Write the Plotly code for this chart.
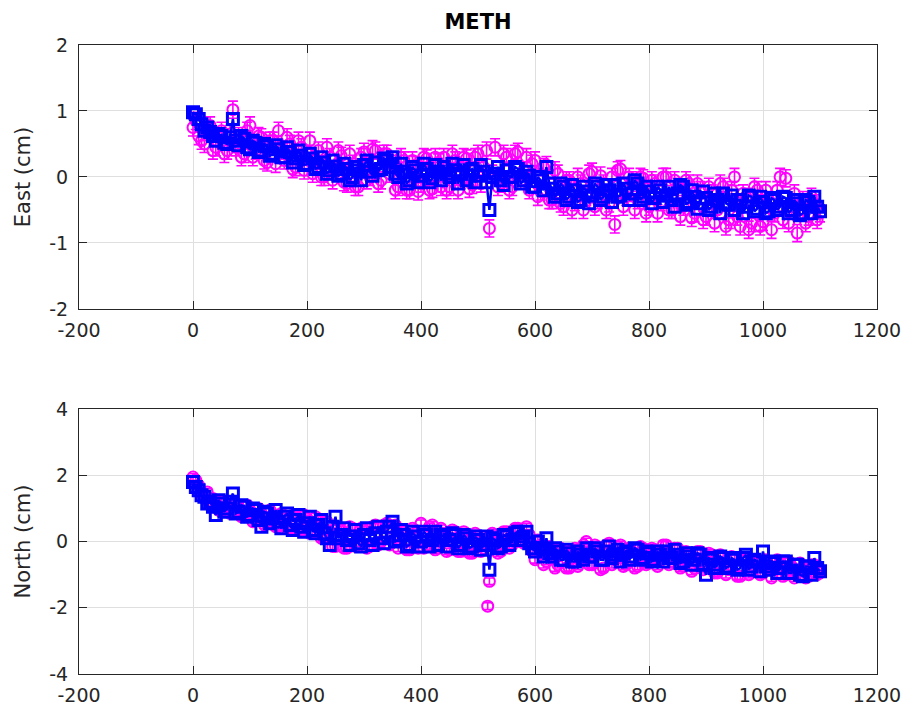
import plotly.graph_objects as go
from plotly.subplots import make_subplots

# ---------------- data (cm), one epoch every 5 days ----------------
days = list(range(0, 1101, 5))

east_blue = [
    0.98, 0.95, 0.88, 0.80, 0.70, 0.75, 0.68, 0.62, 0.55, 0.65, 0.62, 0.52, 0.50, 0.60, 0.88, 0.55, 0.48, 0.62, 0.58, 0.45,
    0.42, 0.55, 0.52, 0.38, 0.40, 0.50, 0.46, 0.32, 0.35, 0.48, 0.42, 0.30, 0.30, 0.45, 0.38, 0.22, 0.28, 0.40, 0.32, 0.18,
    0.20, 0.35, 0.28, 0.12, 0.15, 0.30, 0.22, 0.05, 0.10, 0.25, 0.16, 0.02, 0.05, 0.20, 0.12, -0.05, 0.00, 0.15, 0.10, -0.05,
    0.18, 0.25, 0.08, 0.02, 0.22, 0.10, 0.12, 0.28, 0.25, 0.15, 0.30, 0.05, 0.00, 0.20, 0.08, -0.10, -0.05, 0.15, 0.10, -0.08,
    0.02, 0.20, 0.12, -0.08, -0.02, 0.18, 0.08, -0.05, 0.15, 0.05, 0.00, 0.20, 0.10, -0.10, 0.05, 0.18, -0.05, 0.10, 0.12, -0.08,
    0.02, 0.18, 0.08, -0.08, -0.50, 0.00, 0.05, 0.15, -0.05, -0.12, 0.10, 0.00, 0.00, 0.15, 0.12, -0.10, -0.05, 0.08, 0.02, -0.15,
    -0.15, 0.00, -0.05, -0.20, 0.15, -0.10, -0.18, -0.30, -0.25, -0.10, -0.15, -0.35, -0.30, -0.12, -0.20, -0.38, -0.35, -0.15, -0.22, -0.40,
    -0.28, -0.10, -0.15, -0.35, -0.30, -0.12, -0.20, -0.38, -0.12, -0.30, -0.28, -0.10, -0.18, -0.35, -0.25, -0.05, -0.10, -0.35, -0.30, -0.15,
    -0.22, -0.40, -0.32, -0.15, -0.20, -0.38, -0.28, -0.15, -0.35, -0.45, -0.25, -0.12, -0.15, -0.42, -0.38, -0.20, -0.30, -0.48, -0.40, -0.22,
    -0.32, -0.50, -0.45, -0.25, -0.35, -0.55, -0.25, -0.40, -0.42, -0.28, -0.50, -0.35, -0.35, -0.55, -0.45, -0.28, -0.30, -0.52, -0.48, -0.30,
    -0.38, -0.55, -0.52, -0.32, -0.35, -0.50, -0.45, -0.30, -0.32, -0.55, -0.50, -0.35, -0.40, -0.58, -0.55, -0.35, -0.38, -0.55, -0.30, -0.45,
    -0.52]

east_mag = [
    0.75, 0.85, 0.62, 0.55, 0.50, 0.68, 0.78, 0.40, 0.45, 0.60, 0.70, 0.35, 0.40, 0.65, 1.02, 0.45, 0.62, 0.30, 0.35, 0.70,
    0.78, 0.30, 0.40, 0.62, 0.60, 0.25, 0.22, 0.55, 0.55, 0.20, 0.70, 0.40, 0.25, 0.60, 0.50, 0.12, 0.15, 0.55, 0.45, 0.10,
    0.35, 0.55, 0.05, 0.25, 0.40, 0.00, 0.00, 0.45, 0.30, -0.05, 0.08, 0.40, 0.32, -0.08, -0.10, 0.35, 0.20, -0.15, -0.15, 0.30,
    0.38, -0.05, 0.00, 0.42, 0.40, -0.10, -0.05, 0.35, 0.35, 0.05, 0.20, -0.20, -0.15, 0.30, 0.25, -0.20, -0.20, 0.25, 0.18, -0.22,
    -0.10, 0.30, 0.28, -0.20, -0.18, 0.30, 0.22, -0.15, 0.30, -0.20, -0.15, 0.35, 0.25, -0.20, -0.05, 0.30, 0.28, -0.18, -0.12, 0.30,
    0.35, -0.10, 0.15, 0.40, -0.78, 0.05, 0.45, -0.15, -0.10, 0.35, 0.30, -0.20, -0.15, 0.35, 0.38, -0.05, 0.10, 0.30, -0.20, 0.20,
    0.25, -0.30, -0.22, 0.15, 0.18, -0.35, -0.35, 0.10, 0.05, -0.40, -0.45, -0.05, -0.05, -0.50, -0.38, 0.00, -0.10, -0.50, -0.30, 0.05,
    0.08, -0.45, -0.35, 0.02, -0.10, -0.50, -0.40, 0.00, -0.72, 0.10, 0.12, -0.45, -0.30, 0.00, -0.05, -0.50, -0.35, 0.00, -0.02, -0.55,
    -0.45, -0.05, -0.10, -0.55, -0.38, 0.00, 0.00, -0.50, -0.50, -0.05, -0.15, -0.60, -0.45, -0.05, -0.10, -0.62, -0.55, -0.10, -0.20, -0.65,
    -0.60, -0.15, -0.25, -0.70, -0.50, -0.10, -0.15, -0.75, -0.65, -0.20, 0.00, -0.60, -0.75, -0.25, -0.30, -0.80, -0.70, -0.15, -0.20, -0.75,
    -0.68, -0.20, -0.35, -0.80, -0.55, -0.20, 0.00, -0.65, -0.02, -0.70, -0.45, -0.25, -0.85, -0.50, -0.35, -0.70, -0.60, -0.30, -0.40, -0.65,
    -0.55]

north_blue = [
    1.80, 1.65, 1.55, 1.40, 1.35, 1.15, 1.20, 1.05, 0.80, 1.25, 1.15, 0.90, 1.00, 1.20, 1.45, 0.85, 0.90, 1.10, 1.05, 0.75,
    0.80, 1.00, 0.95, 0.65, 0.45, 0.90, 0.85, 0.55, 0.70, 0.95, 0.60, 0.40, 0.75, 0.85, 0.50, 0.35, 0.65, 0.80, 0.45, 0.30,
    0.55, 0.75, 0.35, 0.25, 0.50, 0.65, 0.25, 0.10, -0.10, 0.45, 0.75, 0.10, 0.20, 0.40, 0.05, -0.10, 0.15, 0.35, -0.05, -0.15,
    0.20, 0.40, 0.05, -0.10, 0.25, 0.45, 0.10, -0.05, 0.30, 0.45, 0.60, 0.00, 0.05, 0.35, 0.20, -0.15, -0.10, 0.30, 0.15, -0.15,
    0.00, 0.30, 0.20, -0.15, 0.05, 0.30, -0.10, 0.20, 0.15, -0.15, 0.05, 0.25, 0.20, -0.20, -0.10, 0.20, 0.10, -0.20, -0.15, 0.15,
    0.05, -0.25, -0.10, 0.15, -0.85, 0.10, 0.05, -0.20, -0.15, 0.20, 0.15, -0.10, 0.05, 0.25, 0.30, 0.05, 0.15, 0.30, -0.05, -0.20,
    -0.30, 0.00, -0.20, -0.45, 0.10, -0.35, -0.45, -0.20, -0.30, -0.55, -0.55, -0.25, -0.35, -0.60, -0.60, -0.30, -0.40, -0.55, -0.20, -0.45,
    -0.45, -0.20, -0.30, -0.55, -0.55, -0.30, -0.15, -0.50, -0.40, -0.25, -0.60, -0.35, -0.30, -0.55, -0.45, -0.20, -0.25, -0.55, -0.50, -0.30,
    -0.35, -0.60, -0.55, -0.30, -0.40, -0.60, -0.30, -0.50, -0.50, -0.25, -0.40, -0.65, -0.60, -0.35, -0.45, -0.70, -0.55, -0.35, -0.40, -0.70,
    -1.00, -0.50, -0.55, -0.80, -0.70, -0.45, -0.50, -0.80, -0.75, -0.50, -0.55, -0.85, -0.80, -0.50, -0.40, -0.85, -0.75, -0.55, -0.60, -0.90,
    -0.30, -0.75, -0.85, -0.60, -0.65, -0.95, -0.80, -0.60, -0.60, -0.95, -0.95, -0.70, -0.70, -1.00, -1.05, -0.75, -0.75, -1.00, -0.50, -0.80,
    -0.90]

north_mag = [
    1.95, 1.85, 1.70, 1.45, 1.30, 1.50, 1.10, 1.30, 1.25, 0.95, 0.90, 1.20, 1.10, 0.85, 0.85, 1.15, 1.05, 0.75, 0.75, 1.10,
    0.95, 0.60, 0.65, 1.00, 0.85, 0.50, 0.55, 0.95, 0.80, 0.45, 0.45, 0.85, 0.75, 0.40, 0.40, 0.80, 0.80, 0.35, 0.35, 0.80,
    0.70, 0.25, 0.25, 0.75, 0.65, 0.10, 0.10, 0.60, 0.30, -0.15, -0.15, 0.40, 0.35, -0.20, -0.20, 0.45, 0.40, -0.15, -0.05, 0.40,
    0.35, -0.20, -0.15, 0.45, 0.50, -0.10, 0.00, 0.50, 0.55, -0.10, 0.15, 0.50, -0.20, 0.35, 0.30, -0.25, -0.25, 0.40, 0.25, -0.20,
    0.55, -0.20, -0.15, 0.45, 0.50, -0.25, -0.20, 0.40, 0.25, -0.30, -0.25, 0.35, 0.30, -0.30, -0.30, 0.30, 0.20, -0.35, -0.35, 0.25,
    0.15, -0.30, -0.20, 0.10, -1.20, 0.25, 0.20, -0.35, -0.30, 0.30, 0.30, -0.20, -0.10, 0.40, 0.40, 0.00, -0.05, 0.45, 0.20, -0.30,
    -0.55, 0.05, -0.10, -0.70, -0.60, -0.15, -0.25, -0.80, -0.70, -0.20, -0.30, -0.80, -0.80, -0.25, -0.20, -0.75, -0.60, -0.10, 0.00, -0.70,
    -0.70, -0.10, -0.20, -0.85, -0.80, -0.10, -0.05, -0.70, -0.55, -0.15, -0.10, -0.75, -0.70, -0.20, -0.30, -0.80, -0.75, -0.15, -0.20, -0.70,
    -0.65, -0.20, -0.25, -0.75, -0.55, -0.10, -0.10, -0.70, -0.60, -0.20, -0.20, -0.80, -0.75, -0.30, -0.35, -0.90, -0.80, -0.30, -0.30, -0.85,
    -0.65, -0.35, -0.40, -0.95, -0.95, -0.40, -0.45, -1.00, -0.85, -0.45, -0.50, -1.05, -1.05, -0.50, -0.55, -1.00, -0.90, -0.55, -0.60, -1.00,
    -0.95, -0.55, -0.70, -1.10, -0.85, -0.55, -0.60, -1.05, -1.00, -0.60, -0.75, -1.10, -0.95, -0.65, -0.80, -1.10, -1.05, -0.70, -0.70, -1.00,
    -0.95]

# extra magenta outlier epoch near day 517 (north)
north_mag_extra_days = [517]
north_mag_extra = [-1.95]

east_err = 0.13
north_err = 0.10

station = "METH"
x_ticks = [-200, 0, 200, 400, 600, 800, 1000, 1200]
x_tick_text = ["-200", "0", "200", "400", "600", "800", "1000", "1200"]
east_ticks = [-2, -1, 0, 1, 2]
east_tick_text = ["-2", "-1", "0", "1", "2"]
north_ticks = [-4, -2, 0, 2, 4]
north_tick_text = ["-4", "-2", "0", "2", "4"]

# ---------------- figure ----------------
MAG = "#FF00FF"
BLU = "#0000FF"
AX = "#262626"
FONT = "DejaVu Sans"

fig = make_subplots(rows=2, cols=1, vertical_spacing=0.0)


def mag_trace(x, y, err):
    return go.Scatter(
        x=x, y=y, mode="markers",
        marker=dict(symbol="circle-open", size=11, color=MAG, line=dict(width=2, color=MAG)),
        error_y=dict(type="constant", value=err, color=MAG, thickness=1.6, width=5),
        showlegend=False, hoverinfo="skip")


def add_panel(row, yb, ym, err, extra_x=None, extra_y=None):
    fig.add_trace(mag_trace(days, ym, err), row=row, col=1)
    if extra_x:
        fig.add_trace(mag_trace(extra_x, extra_y, err), row=row, col=1)
    fig.add_trace(go.Scatter(
        x=days, y=yb, mode="lines+markers",
        line=dict(color=BLU, width=2.5),
        marker=dict(symbol="square-open", size=11, color=BLU, line=dict(width=3, color=BLU)),
        showlegend=False, hoverinfo="skip"), row=row, col=1)


add_panel(1, east_blue, east_mag, east_err)
add_panel(2, north_blue, north_mag, north_err, north_mag_extra_days, north_mag_extra)

axis_common = dict(
    showline=True, linecolor=AX, linewidth=1, mirror="ticks",
    ticks="inside", ticklen=8, tickcolor=AX, tickwidth=1,
    showgrid=True, gridcolor="#DFDFDF", gridwidth=1, zeroline=False,
    tickfont=dict(family=FONT, size=19, color=AX),
)

fig.update_xaxes(range=[-200, 1200], tickvals=x_ticks, ticktext=x_tick_text,
                 ticklabelstandoff=4, **axis_common)
fig.update_yaxes(ticklabelstandoff=6, **axis_common)
fig.update_yaxes(range=[-2, 2], tickvals=east_ticks, ticktext=east_tick_text, row=1, col=1,
                 title=dict(text="East (cm)", font=dict(family=FONT, size=21, color=AX), standoff=12))
fig.update_yaxes(range=[-4, 4], tickvals=north_ticks, ticktext=north_tick_text, row=2, col=1,
                 title=dict(text="North (cm)", font=dict(family=FONT, size=21, color=AX), standoff=12))

fig.update_layout(
    width=913, height=718,
    margin=dict(l=79, r=35, t=45, b=39),
    paper_bgcolor="white", plot_bgcolor="white",
    yaxis=dict(domain=[0.5804, 1.0]),
    yaxis2=dict(domain=[0.0, 0.4211]),
    title=dict(text="<b>" + station + "</b>", x=0.5, xanchor="center",
               xref="paper", y=1 - 22 / 718, yanchor="middle", yref="container",
               font=dict(family=FONT, size=21, color="black")),
)

fig.write_html("out.html")
